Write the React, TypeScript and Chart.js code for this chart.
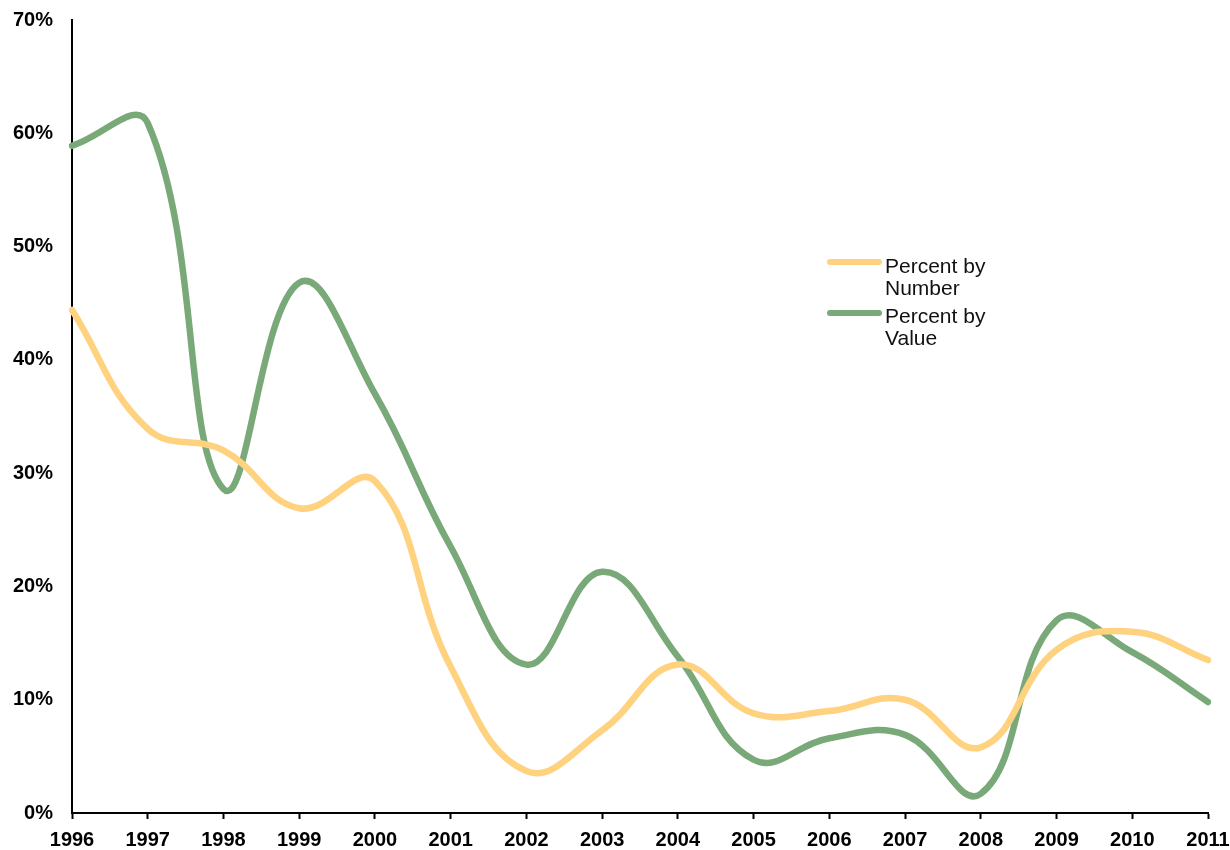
import React, { useEffect, useRef } from "react";
import { Chart, registerables } from "chart.js";

Chart.register(...registerables);

const years = ["1996", "1997", "1998", "1999", "2000", "2001", "2002", "2003", "2004", "2005", "2006", "2007", "2008", "2009", "2010", "2011"];
const percentByNumber = [44.4, 33.9, 32.0, 26.9, 29.3, 12.9, 3.7, 7.3, 13.1, 8.8, 9.0, 10.0, 5.8, 14.4, 16.0, 13.5];
const percentByValue = [58.9, 60.9, 28.6, 46.8, 37.0, 23.5, 13.1, 21.3, 13.8, 4.7, 6.6, 6.9, 1.7, 17.0, 14.2, 9.8];
const seriesNames = ["Percent by\nNumber", "Percent by\nValue"];
const yTicks = [0, 10, 20, 30, 40, 50, 60, 70];

const YELLOW = "#FFD280";
const GREEN = "#79A978";
const FONT = "'Liberation Sans', Arial, sans-serif";

export default function App() {
  const ref = useRef<HTMLCanvasElement | null>(null);

  useEffect(() => {
    if (!ref.current) return;
    const chart = new Chart(ref.current, {
      type: "line",
      data: {
        labels: years,
        datasets: [
          {
            label: seriesNames[0],
            data: percentByNumber,
            borderColor: YELLOW,
            backgroundColor: YELLOW,
            borderWidth: 6.5,
            pointRadius: 0,
            tension: 0.42,
            borderCapStyle: "round",
            borderJoinStyle: "round",
          },
          {
            label: seriesNames[1],
            data: percentByValue,
            borderColor: GREEN,
            backgroundColor: GREEN,
            borderWidth: 6.5,
            pointRadius: 0,
            tension: 0.42,
            borderCapStyle: "round",
            borderJoinStyle: "round",
          },
        ],
      },
      options: {
        responsive: false,
        animation: false,
        layout: { padding: { top: 20, left: 0, right: 0, bottom: 0 } },
        plugins: { legend: { display: false }, tooltip: { enabled: false } },
        scales: {
          x: {
            type: "category",
            offset: false,
            grid: {
              display: true,
              drawOnChartArea: false,
              drawTicks: true,
              tickLength: 6,
              tickColor: "#000",
              tickWidth: 2,
            },
            border: { display: true, color: "#000", width: 2 },
            ticks: {
              color: "#000",
              padding: 9,
              maxRotation: 0,
              autoSkip: false,
              font: { family: FONT, size: 20, weight: "bold" },
            },
            afterFit: (scale: any) => {
              scale.height = 37;
              scale.paddingRight = 22;
              scale.paddingLeft = 0;
            },
          },
          y: {
            min: 0,
            max: 70,
            afterBuildTicks: (scale: any) => {
              scale.ticks = yTicks.map((v) => ({ value: v }));
            },
            grid: { display: false, drawTicks: false },
            border: { display: true, color: "#000", width: 2 },
            ticks: {
              color: "#000",
              padding: 19,
              font: { family: FONT, size: 20, weight: "bold" },
              callback: (v: any) => `${v}%`,
            },
            afterFit: (scale: any) => {
              scale.width = 72;
              scale.paddingTop = 0;
              scale.paddingBottom = 0;
            },
          },
        },
      },
    });
    return () => chart.destroy();
  }, []);

  const legendText: React.CSSProperties = {
    position: "absolute",
    left: 885,
    fontFamily: FONT,
    fontSize: 21,
    lineHeight: "22px",
    color: "#111",
    whiteSpace: "pre",
  };
  const legendLine = (color: string, top: number): React.CSSProperties => ({
    position: "absolute",
    left: 827,
    top,
    width: 55,
    height: 6,
    borderRadius: 3,
    background: color,
  });

  return (
    <div style={{ position: "fixed", left: 0, top: 0, width: 1230, height: 850, background: "#fff" }}>
      <canvas ref={ref} width={1230} height={850} style={{ display: "block" }} />
      <div style={legendLine(YELLOW, 259)} />
      <div style={{ ...legendText, top: 255 }}>{seriesNames[0]}</div>
      <div style={legendLine(GREEN, 310)} />
      <div style={{ ...legendText, top: 305 }}>{seriesNames[1]}</div>
    </div>
  );
}
